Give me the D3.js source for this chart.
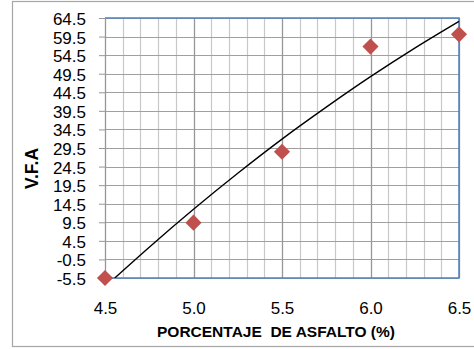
<!DOCTYPE html>
<html><head><meta charset="utf-8">
<script src="https://cdn.jsdelivr.net/npm/d3@7"></script>
<style>body{margin:0;background:#fff}svg{display:block}text{font-family:"Liberation Sans",Arial,sans-serif}</style>
</head><body><svg id="c" width="474" height="349"></svg>
<script>
// Data
const asphaltPct = [4.5, 5.0, 5.5, 6.0, 6.5];
const vfaValues = [-5.5, 9.4, 28.5, 56.8, 60.1];
// Trend line (polynomial trendline)
const trendX = [4.555, 4.75, 5.0, 5.25, 5.5, 5.75, 6.0, 6.25, 6.5];
const trendY = [-5.5, 2.8, 13.0, 22.7, 31.9, 40.5, 48.7, 56.4, 63.6];
const xTicks = [4.5, 5.0, 5.5, 6.0, 6.5];
const yTicks = [-5.5, -0.5, 4.5, 9.5, 14.5, 19.5, 24.5, 29.5, 34.5, 39.5, 44.5, 49.5, 54.5, 59.5, 64.5];
const xTitle = "PORCENTAJE  DE ASFALTO (%)";
const yTitle = "V.F.A";

const svg = d3.select("#c");
const L = 105, R = 459, T = 18, B = 278;
const x = d3.scaleLinear().domain([4.5, 6.5]).range([L, R]);
const y = d3.scaleLinear().domain([-5.5, 64.5]).range([B, T]);
const fmt = d => d.toFixed(1);

// outer chart border
svg.append("rect").attr("x", 12.5).attr("y", 1.5).attr("width", 480).attr("height", 345)
  .attr("fill", "none").attr("stroke", "#a6a6a6").attr("stroke-width", 1.2);

// minor vertical gridlines
const minorX = d3.range(0, 21).map(i => 4.5 + i * 0.1);
svg.append("g").selectAll("line").data(minorX).join("line")
  .attr("x1", d => Math.round(x(d)) + 0.5).attr("x2", d => Math.round(x(d)) + 0.5)
  .attr("y1", T).attr("y2", B).attr("stroke", "#c8c8c8").attr("stroke-width", 1.2);
// horizontal gridlines
svg.append("g").selectAll("line").data(yTicks).join("line")
  .attr("x1", L).attr("x2", R)
  .attr("y1", d => Math.round(y(d)) + 0.5).attr("y2", d => Math.round(y(d)) + 0.5)
  .attr("stroke", "#a0a0a0").attr("stroke-width", 1.2);
// major vertical gridlines
svg.append("g").selectAll("line").data(xTicks).join("line")
  .attr("x1", d => Math.round(x(d)) + 0.5).attr("x2", d => Math.round(x(d)) + 0.5)
  .attr("y1", T).attr("y2", B).attr("stroke", "#979797").attr("stroke-width", 1.2);

// plot border (top, right, bottom blue)
svg.append("path").attr("d", `M${L},${T}H${R}V${B}H${L}`)
  .attr("fill", "none").attr("stroke", "#4f81bd").attr("stroke-width", 1.5);

// y axis
const yAxis = d3.axisLeft(y).tickValues(yTicks).tickFormat(fmt).tickSize(6).tickPadding(13);
const ga = svg.append("g").attr("transform", `translate(${L},0)`).call(yAxis);
ga.select(".domain").attr("stroke", "#979797");
ga.selectAll(".tick line").attr("stroke", "#979797");
ga.selectAll("text").attr("font-size", 17).attr("fill", "#000").attr("font-family", "Liberation Sans, Arial, sans-serif").attr("dy", "0.38em");

// x axis labels
const xAxis = d3.axisBottom(x).tickValues(xTicks).tickFormat(fmt).tickSize(0).tickPadding(24);
const gx = svg.append("g").attr("transform", `translate(0,${B})`).call(xAxis);
gx.select(".domain").remove();
gx.selectAll("text").attr("font-size", 17).attr("fill", "#000").attr("font-family", "Liberation Sans, Arial, sans-serif");

// trend line
const clipId = "plotclip";
svg.append("clipPath").attr("id", clipId).append("rect").attr("x", L).attr("y", T - 2).attr("width", R - L + 2).attr("height", B - T + 2);
svg.append("path").datum(trendX.map((d, i) => [d, trendY[i]]))
  .attr("clip-path", `url(#${clipId})`)
  .attr("d", d3.line().x(d => x(d[0])).y(d => y(d[1])).curve(d3.curveMonotoneX))
  .attr("fill", "none").attr("stroke", "#000").attr("stroke-width", 1.4);

// markers
svg.append("g").selectAll("path").data(asphaltPct.map((d, i) => [d, vfaValues[i]])).join("path")
  .attr("d", d3.symbol(d3.symbolSquare, 130))
  .attr("transform", d => `translate(${x(d[0])},${y(d[1])}) rotate(45)`)
  .attr("fill", "#c0504d");

// titles
svg.append("text").attr("x", 276).attr("y", 337).attr("text-anchor", "middle")
  .attr("font-size", 15.5).attr("font-weight", "bold").style("white-space", "pre").text(xTitle);
svg.append("text").attr("transform", "translate(37.5,168.5) rotate(-90)").attr("text-anchor", "middle")
  .attr("font-size", 17.5).attr("font-weight", "bold").text(yTitle);
</script></body></html>
